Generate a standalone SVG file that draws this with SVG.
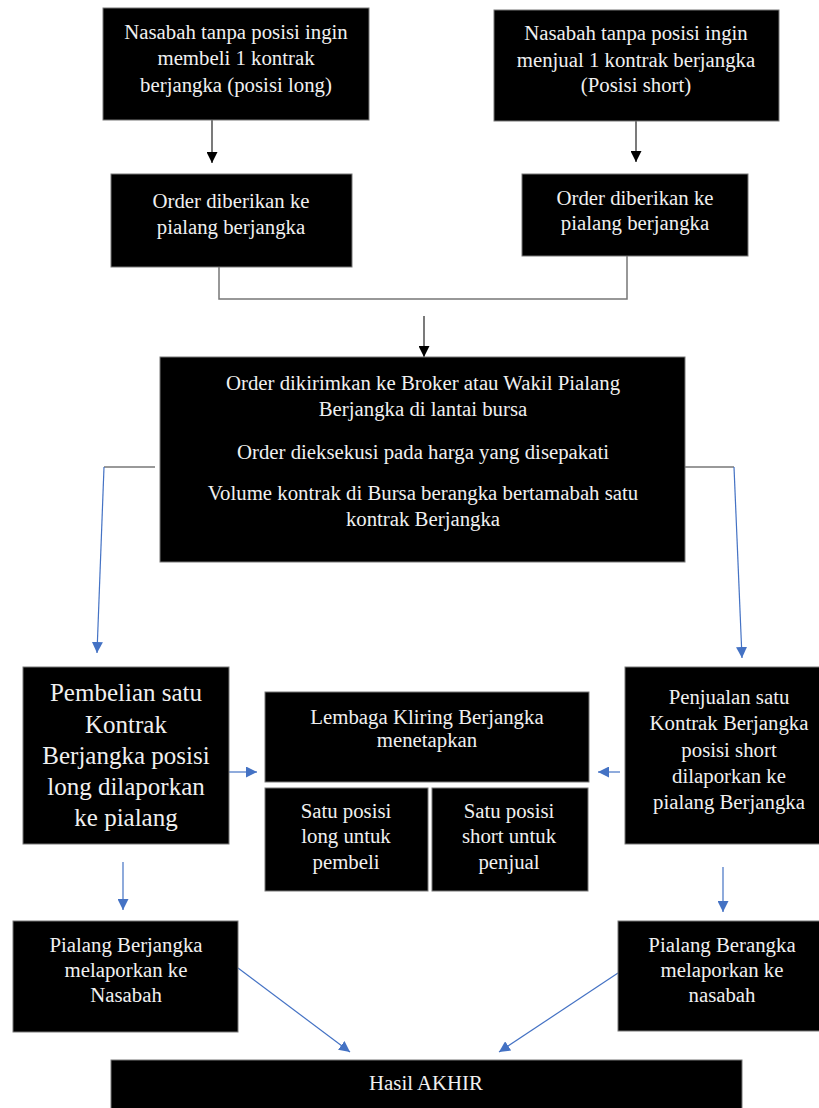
<svg xmlns="http://www.w3.org/2000/svg" width="819" height="1108" viewBox="0 0 819 1108">
<defs>
<style>
.box{fill:#000;stroke:#777;stroke-width:1}
.t{font-family:"Liberation Serif","Times New Roman",serif;font-size:20.8px;fill:#f0f0f0;text-anchor:middle}
.big{font-size:25px}
.k{fill:none;stroke:#333;stroke-width:1.3}
.g{fill:none;stroke:#777;stroke-width:1.5}
.b{fill:none;stroke:#4472C4;stroke-width:1.2}
</style>
<marker id="ak" viewBox="0 0 10 10" refX="10" refY="5" markerWidth="11" markerHeight="11" markerUnits="userSpaceOnUse" orient="auto"><path d="M0,0 L10,5 L0,10 z" fill="#000"/></marker>
<marker id="ab" viewBox="0 0 10 10" refX="10" refY="5" markerWidth="11" markerHeight="11" markerUnits="userSpaceOnUse" orient="auto"><path d="M0,0 L10,5 L0,10 z" fill="#4472C4"/></marker>
</defs>
<rect width="819" height="1108" fill="#fff"/>
<g id="connectors">
<path class="k" d="M212,120 V163" marker-end="url(#ak)"/>
<path class="k" d="M636,121 V162" marker-end="url(#ak)"/>
<path class="g" d="M219,267 V299 H627 V256"/>
<path class="k" d="M424,316 V357" marker-end="url(#ak)"/>
<path class="g" d="M155,467 H104"/>
<path class="b" d="M104,467 L97,653" marker-end="url(#ab)"/>
<path class="g" d="M684,467 H734"/>
<path class="b" d="M734,467 L742,658" marker-end="url(#ab)"/>
<path class="b" d="M229,772 H257" marker-end="url(#ab)"/>
<path class="b" d="M620,772 H598" marker-end="url(#ab)"/>
<path class="b" d="M123,862 V910" marker-end="url(#ab)"/>
<path class="b" d="M723,867 V912" marker-end="url(#ab)"/>
<path class="b" d="M238,968 L350,1052" marker-end="url(#ab)"/>
<path class="b" d="M618,973 L499,1052" marker-end="url(#ab)"/>
</g>
<g id="n1"><rect class="box" x="103" y="8" width="266" height="112"/>
<text class="t" x="236" y="39">Nasabah tanpa posisi ingin</text>
<text class="t" x="236" y="65">membeli 1 kontrak</text>
<text class="t" x="236" y="92">berjangka (posisi long)</text></g>
<g id="n2"><rect class="box" x="494" y="10" width="285" height="111"/>
<text class="t" x="636" y="40">Nasabah tanpa posisi ingin</text>
<text class="t" x="636" y="67">menjual 1 kontrak berjangka</text>
<text class="t" x="636" y="92">(Posisi short)</text></g>
<g id="n3"><rect class="box" x="111" y="174" width="241" height="93"/>
<text class="t" x="231" y="208">Order diberikan ke</text>
<text class="t" x="231" y="234">pialang berjangka</text></g>
<g id="n4"><rect class="box" x="522" y="174" width="226" height="82"/>
<text class="t" x="635" y="205">Order diberikan ke</text>
<text class="t" x="635" y="230">pialang berjangka</text></g>
<g id="n5"><rect class="box" x="160" y="357" width="525" height="205"/>
<text class="t" x="423" y="390">Order dikirimkan ke Broker atau Wakil Pialang</text>
<text class="t" x="423" y="416">Berjangka di lantai bursa</text>
<text class="t" x="423" y="459">Order dieksekusi pada harga yang disepakati</text>
<text class="t" x="423" y="500">Volume kontrak di Bursa berangka bertamabah satu</text>
<text class="t" x="423" y="526">kontrak Berjangka</text></g>
<g id="n6"><rect class="box" x="23" y="667" width="206" height="177"/>
<text class="t big" x="126" y="701">Pembelian satu</text>
<text class="t big" x="126" y="733">Kontrak</text>
<text class="t big" x="126" y="764">Berjangka posisi</text>
<text class="t big" x="126" y="795">long dilaporkan</text>
<text class="t big" x="126" y="826">ke pialang</text></g>
<g id="n7"><rect class="box" x="265" y="692" width="324" height="90"/>
<text class="t" x="427" y="724">Lembaga Kliring Berjangka</text>
<text class="t" x="427" y="747">menetapkan</text></g>
<g id="n8"><rect class="box" x="265" y="788" width="163" height="103"/>
<text class="t" x="346" y="818">Satu posisi</text>
<text class="t" x="346" y="843">long untuk</text>
<text class="t" x="346" y="869">pembeli</text></g>
<g id="n9"><rect class="box" x="432" y="788" width="156" height="103"/>
<text class="t" x="509" y="818">Satu posisi</text>
<text class="t" x="509" y="843">short untuk</text>
<text class="t" x="509" y="869">penjual</text></g>
<g id="n10"><rect class="box" x="625" y="667" width="208" height="177"/>
<text class="t" x="729" y="704">Penjualan satu</text>
<text class="t" x="729" y="730">Kontrak Berjangka</text>
<text class="t" x="729" y="757">posisi short</text>
<text class="t" x="729" y="783">dilaporkan ke</text>
<text class="t" x="729" y="809">pialang Berjangka</text></g>
<g id="n11"><rect class="box" x="13" y="921" width="225" height="111"/>
<text class="t" x="126" y="952">Pialang Berjangka</text>
<text class="t" x="126" y="977">melaporkan ke</text>
<text class="t" x="126" y="1002">Nasabah</text></g>
<g id="n12"><rect class="box" x="618" y="921" width="210" height="110"/>
<text class="t" x="722" y="952">Pialang Berangka</text>
<text class="t" x="722" y="977">melaporkan ke</text>
<text class="t" x="722" y="1002">nasabah</text></g>
<g id="n13"><rect class="box" x="111" y="1060" width="631" height="60"/>
<text class="t" x="426" y="1090">Hasil AKHIR</text></g>
</svg>
